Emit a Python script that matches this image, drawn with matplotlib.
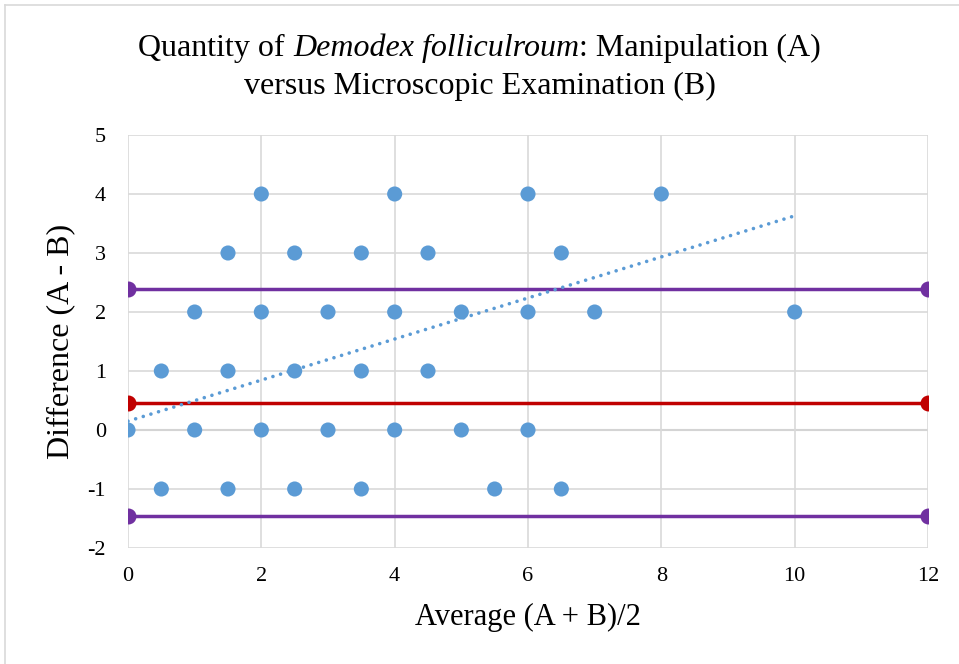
import matplotlib.pyplot as plt
from matplotlib.lines import Line2D

# Bland-Altman data: average (A+B)/2 and difference (A-B)
avg_vals = [2, 4, 6, 8,
            1.5, 2.5, 3.5, 4.5, 6.5,
            1, 2, 3, 4, 5, 6, 7, 10,
            0.5, 1.5, 2.5, 3.5, 4.5,
            0, 1, 2, 3, 4, 5, 6,
            0.5, 1.5, 2.5, 3.5, 5.5, 6.5]
diff_vals = [4, 4, 4, 4,
             3, 3, 3, 3, 3,
             2, 2, 2, 2, 2, 2, 2, 2,
             1, 1, 1, 1, 1,
             0, 0, 0, 0, 0, 0, 0,
             -1, -1, -1, -1, -1, -1]

# mean difference and limits of agreement
mean_diff = 0.46
upper_loa = 2.39
lower_loa = -1.46
line_x = [0, 12]

# linear trend line end points
trend_x = [0, 10]
trend_y = [0.15, 3.63]

x_ticks = [0, 2, 4, 6, 8, 10, 12]
y_ticks = [-2, -1, 0, 1, 2, 3, 4, 5]

plt.rcParams['font.family'] = ['Liberation Serif', 'DejaVu Serif']
plt.rcParams['axes.unicode_minus'] = False

fig = plt.figure(figsize=(9.59, 6.64), dpi=100)
ax = fig.add_axes([128 / 959, 1 - 548 / 664, 800 / 959, 413 / 664])

point_color = '#5b9bd5'
purple = '#7030a0'
red = '#c00000'

ax.plot(line_x, [upper_loa, upper_loa], color=purple, lw=2.5, marker='o', ms=10.5, zorder=3)
ax.plot(line_x, [lower_loa, lower_loa], color=purple, lw=2.5, marker='o', ms=10.5, zorder=3)
ax.plot(line_x, [mean_diff, mean_diff], color=red, lw=2.5, marker='o', ms=10.5, zorder=3)

ax.plot(trend_x, trend_y, color=point_color, lw=2.6, linestyle=(0, (0.01, 2.2)),
        dash_capstyle='round', zorder=4)
ax.scatter(avg_vals, diff_vals, s=118, color=point_color, edgecolors='none', zorder=5)

ax.set_xlim(0, 12)
ax.set_ylim(-2, 5)
ax.set_xticks(x_ticks)
ax.set_yticks(y_ticks)
ax.grid(True, color='#d9d9d9', lw=1.2, zorder=0)
ax.axhline(0, color='#bfbfbf', lw=1.5, zorder=1)
for s in ax.spines.values():
    s.set_visible(False)
ax.tick_params(length=0, labelsize=16, colors='black')
ax.tick_params(axis='x', pad=14)
ax.tick_params(axis='y', pad=16)

ax.set_xlabel('Average (A + B)/2', fontsize=22, labelpad=12)
ax.set_ylabel('Difference (A - B)', fontsize=23, labelpad=9)

# title: mixed upright / italic pieces on the first line
line1 = [('Quantity of ', 'normal'), ('Demodex folliculroum', 'italic'),
         (': Manipulation (A)', 'normal')]
title_size = 23
fig.canvas.draw()
renderer = fig.canvas.get_renderer()
pieces = []
total_w = 0
for txt, style in line1:
    t = fig.text(0, 1 - 48 / 664, txt, fontsize=title_size, style=style,
                 ha='left', va='center')
    w = t.get_window_extent(renderer).width
    pieces.append((t, w))
    total_w += w
x0 = (fig.bbox.width - total_w) / 2
for t, w in pieces:
    t.set_x(x0 / fig.bbox.width)
    x0 += w
fig.text(0.5, 1 - 86 / 664, 'versus Microscopic Examination (B)',
         ha='center', va='center', fontsize=title_size)

# outer chart frame
fig.add_artist(Line2D([5 / 959, 5 / 959], [0, 1 - 5 / 664], color='#d9d9d9', lw=1.2,
                      transform=fig.transFigure))
fig.add_artist(Line2D([5 / 959, 1], [1 - 5 / 664, 1 - 5 / 664], color='#d9d9d9', lw=1.2,
                      transform=fig.transFigure))

fig.savefig('out.png', dpi=100)
